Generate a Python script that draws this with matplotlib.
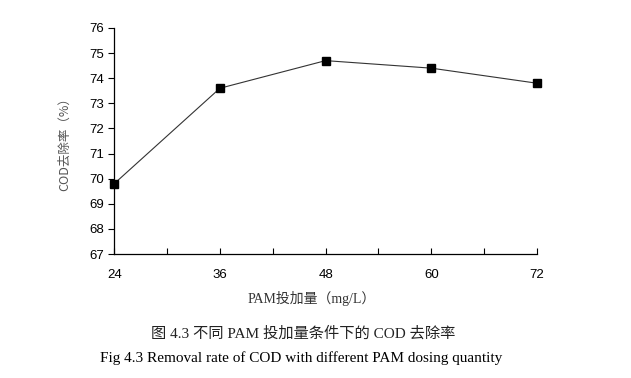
import matplotlib
matplotlib.use("Agg")
import matplotlib.pyplot as plt
from matplotlib.ticker import MultipleLocator

plt.rcParams['font.family'] = ['Liberation Sans', 'Noto Sans CJK SC', 'DejaVu Sans']

# PAM dose (mg/L) vs COD removal rate (%)
dose = [24, 36, 48, 60, 72]
removal = [69.8, 73.6, 74.7, 74.4, 73.8]

fig = plt.figure(figsize=(6.31, 3.78), dpi=100)
ax = fig.add_axes([0.181, 0.328, 0.670, 0.598])

ax.plot(dose, removal, color="#333333", lw=0.8, marker="s", ms=6,
        mfc="black", mec="black", clip_on=False, zorder=3)

ax.set_xlim(24, 72)
ax.set_ylim(67, 76)
ax.xaxis.set_major_locator(MultipleLocator(12))
ax.xaxis.set_minor_locator(MultipleLocator(6))
ax.yaxis.set_major_locator(MultipleLocator(1))
ax.tick_params(axis="x", which="both", direction="in", length=4, width=0.8,
               labelsize=9.5, pad=11)
ax.tick_params(axis="y", direction="out", length=4, width=0.8, labelsize=9.5)
for s in ("top", "right"):
    ax.spines[s].set_visible(False)
for s in ("left", "bottom"):
    ax.spines[s].set_linewidth(0.9)

cjk = ['Noto Sans CJK SC', 'DejaVu Sans']
ax.set_ylabel("COD去除率（%）", family=cjk, fontsize=9, color="#555555", labelpad=13)
ax.set_xlabel("PAM投加量（mg/L）", family=['Liberation Serif', 'Noto Sans CJK SC'],
              fontsize=10, color="#333333")
ax.xaxis.set_label_coords(0.467, -0.163)

fig.text(0.48, 0.118, "图 4.3 不同 PAM 投加量条件下的 COD 去除率",
         family=['Liberation Serif', 'Noto Sans CJK SC'], fontsize=11,
         ha="center", va="center", color="#222222")
fig.text(0.478, 0.052, "Fig 4.3 Removal rate of COD with different PAM dosing quantity",
         family=['Liberation Serif'], fontsize=11, ha="center", va="center")

fig.savefig("out.png", dpi=100)
